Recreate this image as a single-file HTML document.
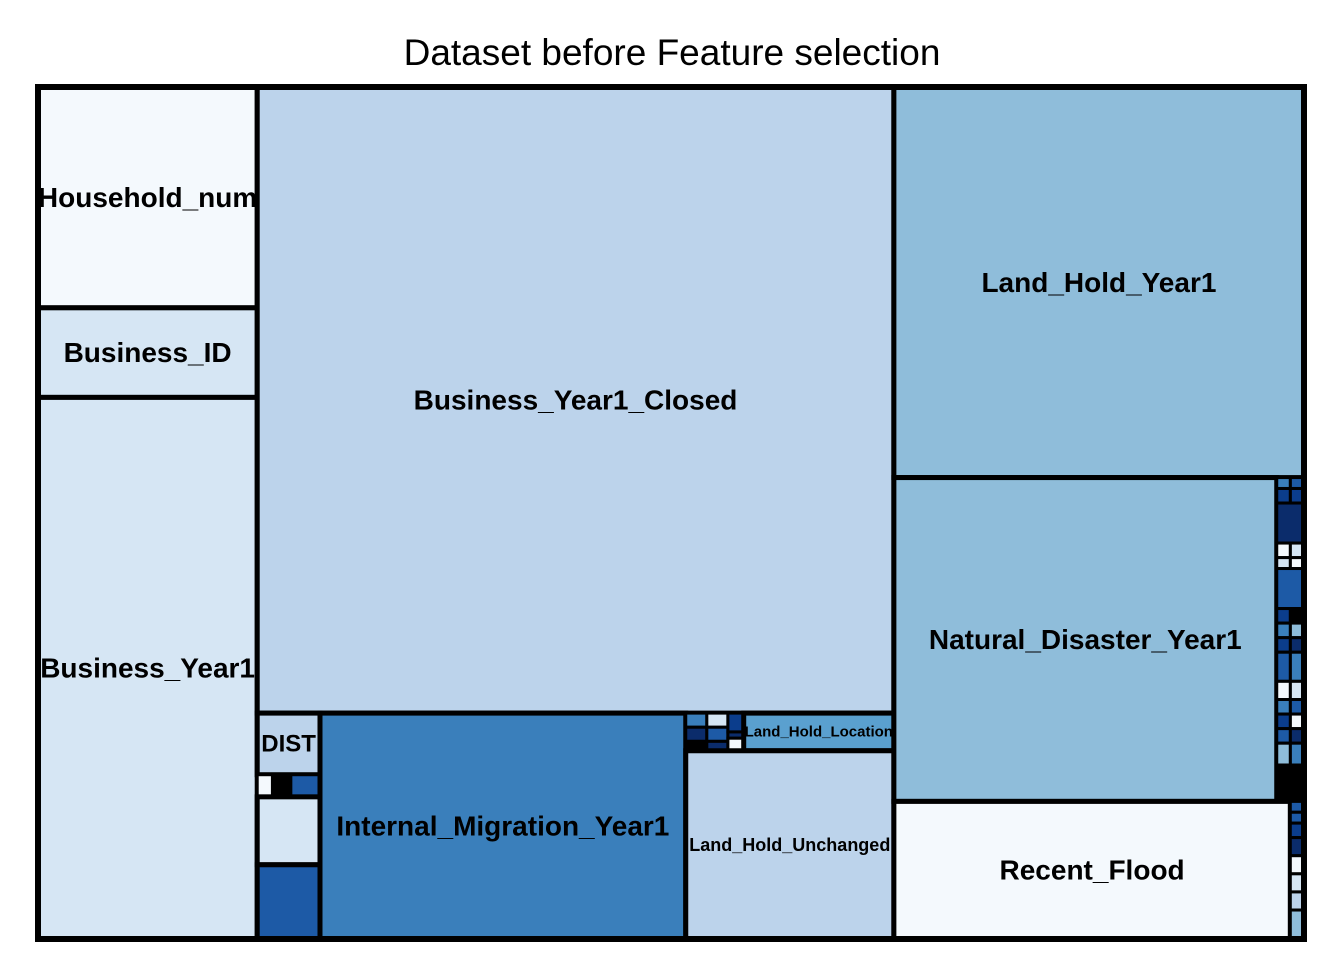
<!DOCTYPE html>
<html><head><meta charset="utf-8">
<style>
html,body{margin:0;padding:0;background:#fff;}
svg{display:block;font-family:"Liberation Sans",sans-serif;}
</style></head>
<body>
<svg id="chart" width="1344" height="960">
<text x="672" y="65" text-anchor="middle" font-size="37">Dataset before Feature selection</text>
<g id="cells"></g>
</svg>
<script>
// Leaf values (area units) and colours
const C0="#f4f9fd",C1="#d6e6f4",C2="#bcd3eb",C3="#8fbdda",C4="#5aa0cf",C5="#3a7fbb",C6="#1d5aa6",C7="#0b3d8c",C8="#0b2c6b",K="#000000";
function L(name,value,color,label){return {name:name,value:value,color:color,label:label||""};}
function N(dir,children){return {dir:dir,children:children};}
function pair(v,a,b){return N('h',[L('s',v/2,a),L('s',v/2,b)]);}

const midSmall=N('v',[
  pair(3,C5,C6),pair(4,C7,C7),L('small',11,C8),pair(4,C0,C1),pair(3,C1,C0),
  L('small',11,C6),pair(4,C7,K),pair(4,C5,C3),pair(4,C7,C8),pair(8,C6,C5),
  pair(5,C0,C1),pair(4,C5,C6),pair(4,C7,C0),pair(4,C6,C8),pair(6,C3,C5),pair(10,K,K)
]);
const botSmall=N('v',[
  L('s',1.5,C6),L('s',1.5,C6),L('s',2,C7),L('s',2.5,C8),L('s',2.5,C0),L('s',2.5,C1),L('s',2.5,C2),L('s',4,C3)
]);
const tinyCluster=N('h',[
  N('v',[L('s',3,C5),L('s',3,C8),L('s',2,K)]),
  N('v',[L('s',3,C1),L('s',3,C6),L('s',2,C8)]),
  N('v',[L('s',3,C7),L('s',1,C8),L('s',2,C0)])
]);
const tree=N('h',[
  N('v',[L('Household_num',488,C0,'Household_num'),L('Business_ID',198,C1,'Business_ID'),L('Business_Year1',1197,C1,'Business_Year1')]),
  N('v',[
    L('Business_Year1_Closed',4019,C2,'Business_Year1_Closed'),
    N('h',[
      N('v',[L('DIST',39,C2,'DIST'),N('h',[L('s',3.4,C0),L('s',4.1,K),L('s',6.5,C6)]),L('s',43,C1),L('s',47,C6)]),
      L('Internal_Migration_Year1',833,C5,'Internal_Migration_Year1'),
      N('v',[N('h',[tinyCluster,L('Land_Hold_Location',57,C4,'Land_Hold_Location')]),L('Land_Hold_Unchanged',395,C2,'Land_Hold_Unchanged')])
    ])
  ]),
  N('v',[
    L('Land_Hold_Year1',1615,C3,'Land_Hold_Year1'),
    N('h',[L('Natural_Disaster_Year1',1250,C3,'Natural_Disaster_Year1'),midSmall]),
    N('h',[L('Recent_Flood',550,C0,'Recent_Flood'),botSmall])
  ])
]);
const fontSizes={'Land_Hold_Location':15,'Land_Hold_Unchanged':18,'DIST':24};

function sum(n){return n.children?n.children.reduce((a,c)=>a+sum(c),0):n.value;}
const g=document.getElementById('cells');
const NS="http://www.w3.org/2000/svg";
const leaves=[];
function layout(n,x,y,w,h){
  if(!n.children){leaves.push({n:n,x:x,y:y,w:w,h:h});return;}
  const t=sum(n);let off=0;
  n.children.forEach(c=>{
    const f=sum(c)/t;
    if(n.dir==='h'){layout(c,x+off,y,w*f,h);off+=w*f;}
    else{layout(c,x,y+off,w,h*f);off+=h*f;}
  });
}
layout(tree,38,87,1266,852);
leaves.forEach(o=>{
  const r=document.createElementNS(NS,'rect');
  r.setAttribute('x',o.x);r.setAttribute('y',o.y);r.setAttribute('width',o.w);r.setAttribute('height',o.h);
  r.setAttribute('fill',o.n.color);r.setAttribute('stroke','#000');
  r.setAttribute('stroke-width',(o.w<40||o.h<30)?3:5);
  
  
  g.appendChild(r);
});
leaves.forEach(o=>{
  if(!o.n.label)return;
  const t=document.createElementNS(NS,'text');
  t.setAttribute('x',o.x+o.w/2);t.setAttribute('y',o.y+o.h/2);
  t.setAttribute('text-anchor','middle');t.setAttribute('dominant-baseline','central');
  t.setAttribute('font-weight','bold');t.setAttribute('font-size',fontSizes[o.n.label]||28);
  t.textContent=o.n.label;
  
  
  g.appendChild(t);
});
const b=document.createElementNS(NS,'rect');
b.setAttribute('x',38);b.setAttribute('y',87);b.setAttribute('width',1266);b.setAttribute('height',852);
b.setAttribute('fill','none');b.setAttribute('stroke','#000');b.setAttribute('stroke-width',6);


g.appendChild(b);
</script>
</body></html>
